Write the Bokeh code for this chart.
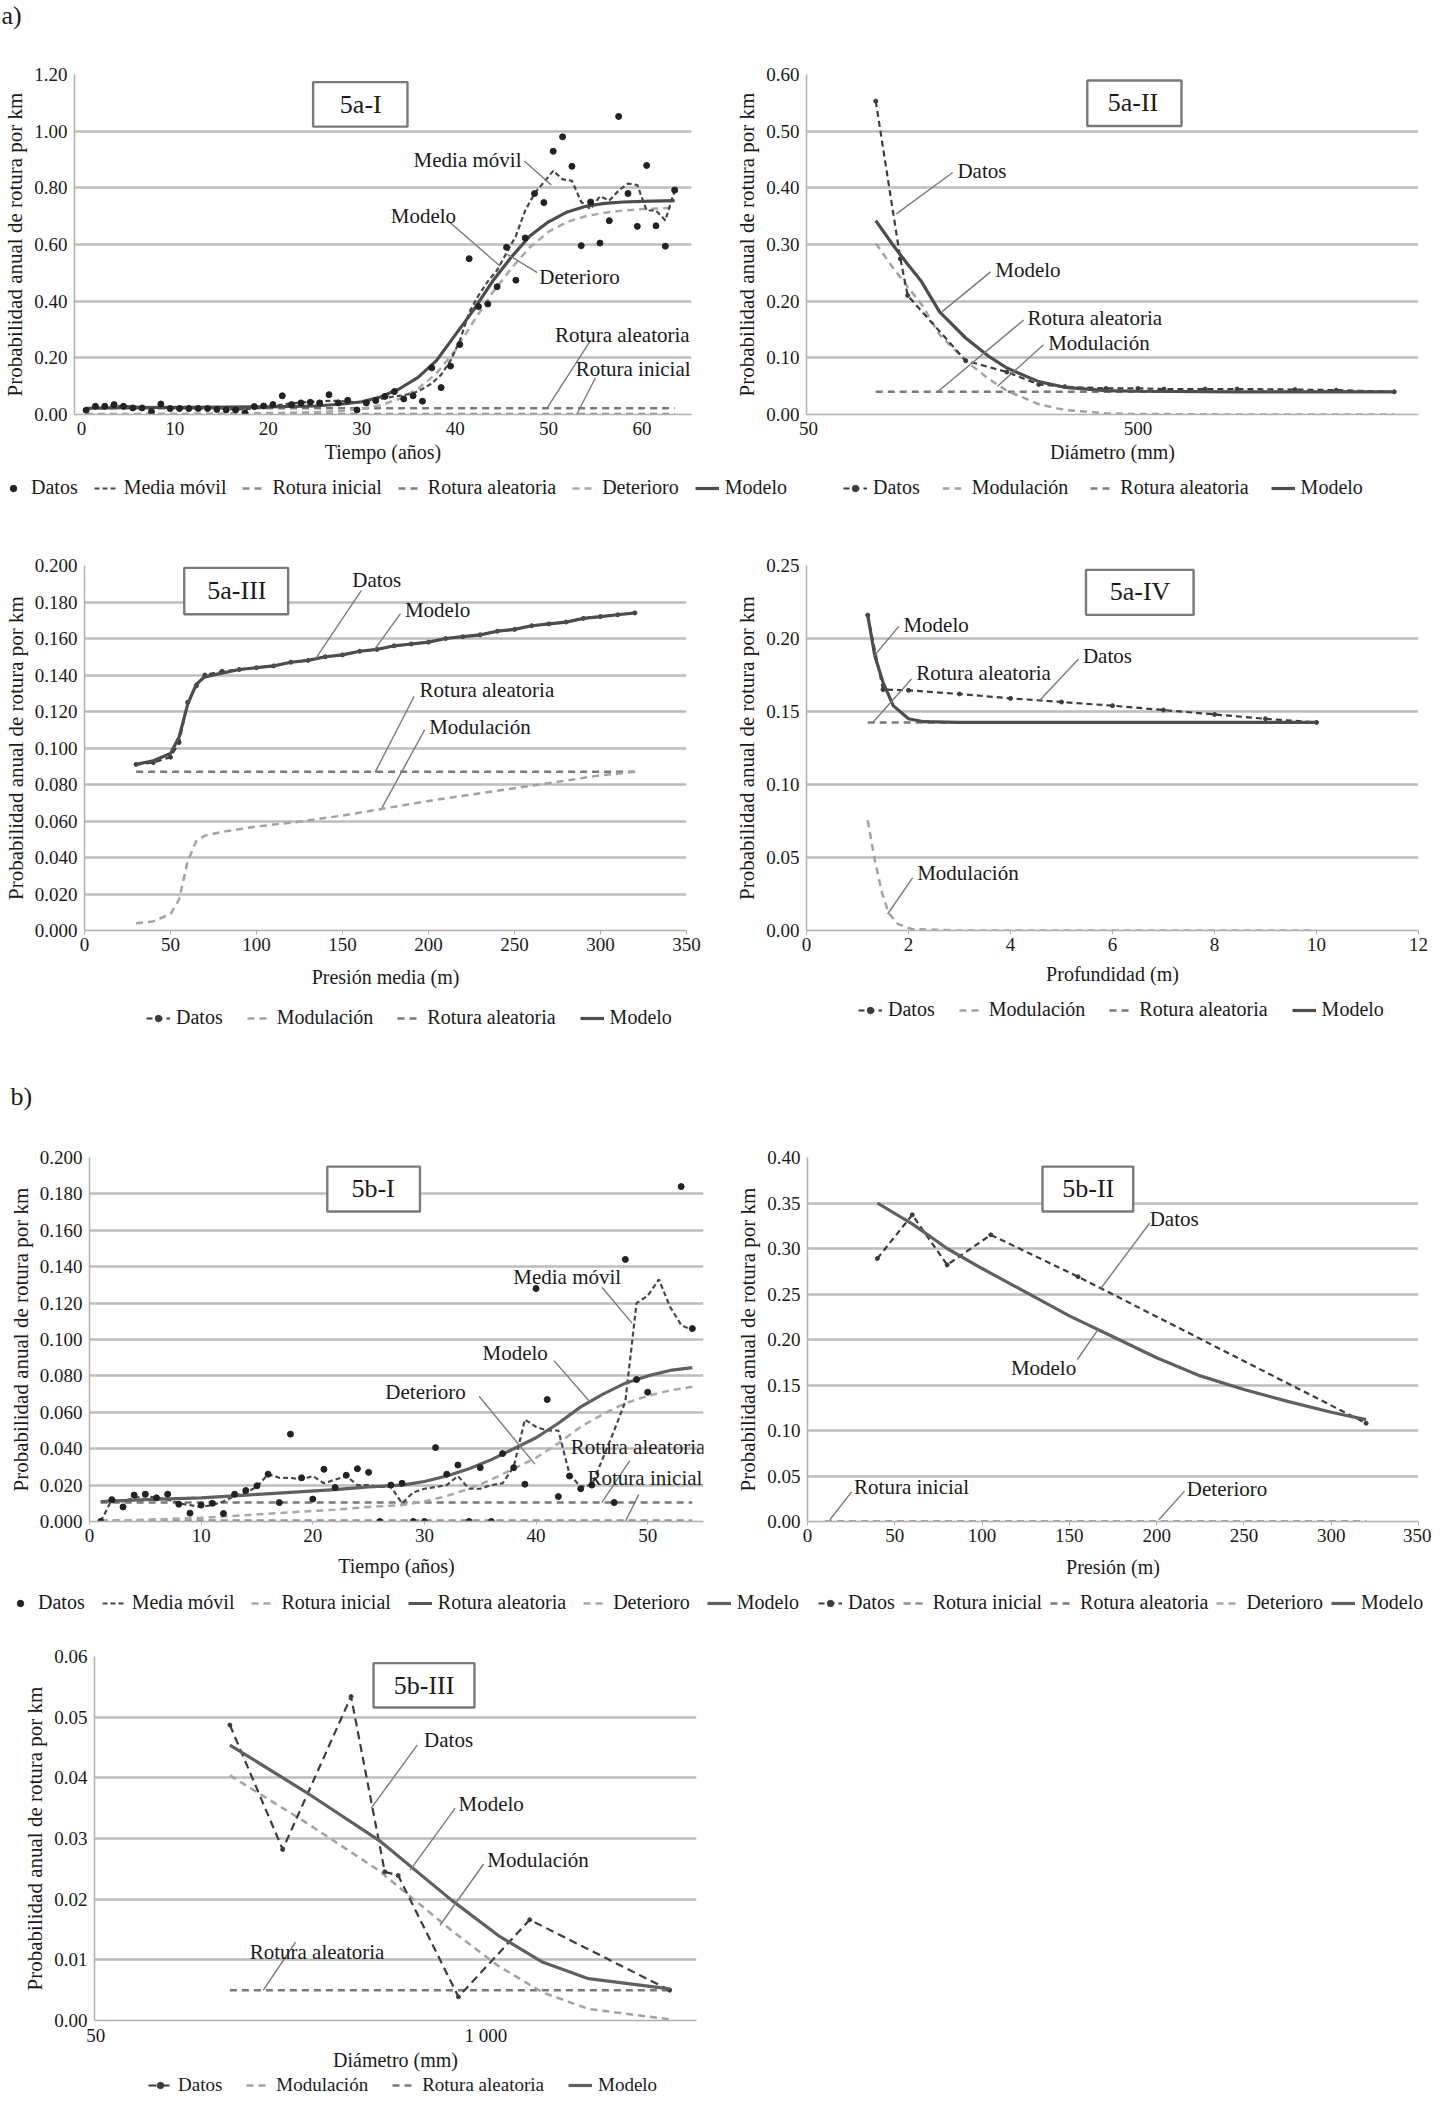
from bokeh.plotting import figure
from bokeh.layouts import column, row
from bokeh.models import Legend, LegendItem, Label, FixedTicker, PrintfTickFormatter, Range1d
from bokeh.core.properties import value
from bokeh.embed import file_html
from bokeh.resources import INLINE

FONT = "Liberation Serif"
TXT = "#1a1a1a"
YLABEL = "Probabilidad anual de rotura por km"

# ---------------- 5a-I ----------------
years_a1 = [0.5, 1.5, 2.5, 3.5, 4.5, 5.5, 6.5, 7.5, 8.5, 9.5,
            10.5, 11.5, 12.5, 13.5, 14.5, 15.5, 16.5, 17.5, 18.5, 19.5,
            20.5, 21.5, 22.5, 23.5, 24.5, 25.5, 26.5, 27.5, 28.5, 29.5,
            30.5, 31.5, 32.5, 33.5, 34.5, 35.5, 36.5, 37.5, 38.5, 39.5,
            40.5, 41.5, 42.5, 43.5, 44.5, 45.5, 46.5, 47.5, 48.5, 49.5,
            50.5, 51.5, 52.5, 53.5, 54.5, 55.5, 56.5, 57.5, 58.5, 59.5,
            60.5, 61.5, 62.5, 63.5]
datos_a1 = [0.015, 0.029, 0.029, 0.035, 0.029, 0.023, 0.023, 0.010, 0.037, 0.021,
            0.021, 0.021, 0.021, 0.021, 0.018, 0.016, 0.016, 0.006, 0.028, 0.030,
            0.035, 0.066, 0.035, 0.041, 0.043, 0.041, 0.070, 0.041, 0.050, 0.016,
            0.041, 0.049, 0.064, 0.081, 0.055, 0.066, 0.047, 0.165, 0.095, 0.171,
            0.247, 0.550, 0.381, 0.390, 0.451, 0.590, 0.474, 0.623, 0.780, 0.748,
            0.929, 0.980, 0.876, 0.596, 0.750, 0.605, 0.684, 1.052, 0.780, 0.664,
            0.879, 0.666, 0.594, 0.792]
media_a1 = [0.020, 0.024, 0.027, 0.030, 0.030, 0.028, 0.026, 0.025, 0.026, 0.025,
            0.024, 0.022, 0.021, 0.021, 0.020, 0.019, 0.018, 0.019, 0.022, 0.026,
            0.030, 0.035, 0.040, 0.042, 0.045, 0.046, 0.048, 0.048, 0.045, 0.043,
            0.045, 0.050, 0.058, 0.064, 0.068, 0.075, 0.090, 0.110, 0.140, 0.190,
            0.260, 0.360, 0.420, 0.470, 0.510, 0.570, 0.630, 0.720, 0.780, 0.820,
            0.860, 0.830, 0.825, 0.750, 0.725, 0.770, 0.755, 0.790, 0.815, 0.810,
            0.720, 0.720, 0.685, 0.790]
tm_a1 = [0.5, 5, 10, 15, 20, 25, 28, 30, 32, 34, 36, 38, 40, 42, 44, 46, 48, 50, 52, 54, 56, 58, 60, 63.5]
modelo_a1 = [0.022, 0.024, 0.025, 0.026, 0.027, 0.030, 0.037, 0.045, 0.062, 0.090, 0.130, 0.190,
             0.280, 0.370, 0.470, 0.555, 0.630, 0.680, 0.715, 0.735, 0.745, 0.750, 0.752, 0.755]
deterioro_a1 = [0.000, 0.001, 0.002, 0.003, 0.005, 0.008, 0.013, 0.020, 0.033, 0.055, 0.090, 0.145,
                0.225, 0.330, 0.430, 0.515, 0.590, 0.645, 0.680, 0.700, 0.712, 0.720, 0.725, 0.730]
tc_a1 = [0.5, 63.5]
aleatoria_a1 = [0.022, 0.022]
inicial_a1 = [0.002, 0.002]

# ---------------- 5a-II ----------------
diam_a2 = [80, 95, 100, 150, 200, 250, 300, 400, 500, 600, 800, 1000, 1500, 2000, 3000]
datos_a2 = [0.553, 0.275, 0.210, 0.095, 0.075, 0.053, 0.049, 0.046, 0.046, 0.045, 0.045, 0.045, 0.044, 0.043, 0.040]
dm_a2 = [80, 90, 100, 110, 125, 150, 175, 200, 250, 300, 400, 500, 1000, 3000]
modelo_a2 = [0.342, 0.300, 0.265, 0.235, 0.181, 0.135, 0.104, 0.082, 0.058, 0.048, 0.042, 0.041, 0.040, 0.040]
modul_a2 = [0.302, 0.260, 0.225, 0.195, 0.141, 0.095, 0.064, 0.042, 0.018, 0.008, 0.002, 0.001, 0.000, 0.000]
dc_a2 = [80, 3000]
aleatoria_a2 = [0.040, 0.040]

# ---------------- 5a-III ----------------
pres_a3 = [30, 40, 50, 55, 60, 65, 70, 80, 90, 100, 110, 120, 130, 140, 150, 160,
           170, 180, 190, 200, 210, 220, 230, 240, 250, 260, 270, 280, 290, 300, 310, 320]
datos_a3 = [0.091, 0.092, 0.095, 0.103, 0.125, 0.134, 0.140, 0.142, 0.143, 0.144, 0.145, 0.147, 0.148, 0.150, 0.151, 0.153,
            0.154, 0.156, 0.157, 0.158, 0.160, 0.161, 0.162, 0.164, 0.165, 0.167, 0.168, 0.169, 0.171, 0.172, 0.173, 0.174]
modelo_a3 = [0.091, 0.093, 0.097, 0.106, 0.124, 0.135, 0.139, 0.141, 0.143, 0.144, 0.145, 0.147, 0.148, 0.150, 0.151, 0.153,
             0.154, 0.156, 0.157, 0.158, 0.160, 0.161, 0.162, 0.164, 0.165, 0.167, 0.168, 0.169, 0.171, 0.172, 0.173, 0.174]
pm_a3 = [30, 40, 50, 55, 60, 65, 70, 80, 100, 120, 150, 175, 200, 250, 300, 320]
modul_a3 = [0.004, 0.005, 0.009, 0.017, 0.038, 0.049, 0.052, 0.054, 0.057, 0.059, 0.063, 0.067, 0.071, 0.078, 0.085, 0.087]
pc_a3 = [30, 320]
aleatoria_a3 = [0.087, 0.087]

# ---------------- 5a-IV ----------------
prof_a4 = [1.2, 1.5, 2, 3, 4, 5, 6, 7, 8, 9, 10]
datos_a4 = [0.216, 0.165, 0.1645, 0.162, 0.159, 0.1565, 0.154, 0.151, 0.148, 0.145, 0.1425]
pm_a4 = [1.2, 1.34, 1.5, 1.7, 2.0, 2.3, 3, 10]
modelo_a4 = [0.216, 0.188, 0.170, 0.154, 0.145, 0.143, 0.1425, 0.1425]
pd_a4 = [1.2, 1.34, 1.48, 1.61, 1.79, 2.06, 3, 10]
modul_a4 = [0.0755, 0.048, 0.026, 0.012, 0.0045, 0.001, 0.0, 0.0]
pc_a4 = [1.2, 10]
aleatoria_a4 = [0.1425, 0.1425]

# ---------------- 5b-I ----------------
years_b1 = [1, 2, 3, 4, 5, 6, 7, 8, 9, 10, 11, 12, 13, 14, 15, 16, 17, 18, 19, 20,
            21, 22, 23, 24, 25, 26, 27, 28, 29, 30, 31, 32, 33, 34, 35, 36, 37, 38, 39, 40,
            41, 42, 43, 44, 45, 47, 48, 49, 50, 53, 54]
datos_b1 = [0.000, 0.012, 0.008, 0.0145, 0.015, 0.013, 0.015, 0.0095, 0.0046, 0.009,
            0.010, 0.0044, 0.015, 0.017, 0.0196, 0.026, 0.0104, 0.048, 0.024, 0.0123,
            0.0287, 0.0187, 0.0254, 0.029, 0.027, 0.000, 0.020, 0.021, 0.000, 0.000,
            0.0406, 0.026, 0.031, 0.000, 0.0296, 0.000, 0.0373, 0.0296, 0.0205, 0.128,
            0.067, 0.0137, 0.025, 0.018, 0.020, 0.0104, 0.144, 0.078, 0.071, 0.184, 0.106]
ym_b1 = [1, 2, 3, 4, 5, 6, 7, 8, 9, 10, 11, 12, 13, 14, 15, 16, 17, 18, 19, 20,
         21, 22, 23, 24, 25, 26, 27, 28, 29, 30, 31, 32, 33, 34, 35, 36, 37, 38, 39, 40,
         41, 42, 43, 44, 45, 46, 47, 48, 49, 50, 51, 52, 53, 54]
media_b1 = [0.000, 0.012, 0.011, 0.013, 0.014, 0.013, 0.012, 0.010, 0.009, 0.008,
            0.009, 0.011, 0.014, 0.016, 0.019, 0.026, 0.024, 0.024, 0.023, 0.025,
            0.021, 0.023, 0.025, 0.020, 0.020, 0.019, 0.019, 0.010, 0.016, 0.018,
            0.019, 0.020, 0.025, 0.018, 0.018, 0.020, 0.021, 0.030, 0.056, 0.052,
            0.050, 0.050, 0.026, 0.019, 0.020, 0.035, 0.050, 0.066, 0.120, 0.124,
            0.133, 0.118, 0.108, 0.105]
tm_b1 = [1, 5, 10, 14, 18, 22, 25, 28, 30, 32, 34, 36, 38, 40, 42, 44, 46, 48, 50, 52, 54]
modelo_b1 = [0.011, 0.012, 0.013, 0.0145, 0.016, 0.0175, 0.019, 0.020, 0.022, 0.025, 0.029,
             0.034, 0.040, 0.046, 0.054, 0.063, 0.070, 0.076, 0.080, 0.083, 0.0845]
deterioro_b1 = [0.000, 0.001, 0.002, 0.0035, 0.005, 0.0065, 0.008, 0.009, 0.011, 0.014, 0.018,
                0.023, 0.029, 0.035, 0.043, 0.052, 0.059, 0.065, 0.069, 0.072, 0.074]
tc_b1 = [1, 54]
aleatoria_b1 = [0.0105, 0.0105]
inicial_b1 = [0.0005, 0.0005]

# ---------------- 5b-II ----------------
pres_b2 = [40, 60, 80, 105, 155, 320]
datos_b2 = [0.289, 0.337, 0.282, 0.315, 0.269, 0.108]
pm_b2 = [40, 60, 80, 100, 125, 150, 175, 200, 225, 250, 275, 300, 320]
modelo_b2 = [0.350, 0.327, 0.300, 0.278, 0.252, 0.226, 0.203, 0.180, 0.160, 0.145, 0.132, 0.120, 0.112]
pc_b2 = [10, 320]
inicial_b2 = [0.0, 0.0]
aleatoria_b2 = [0.0, 0.0]
deterioro_b2 = [0.0, 0.0]

# ---------------- 5b-III ----------------
diam_b3 = [140, 210, 355, 460, 510, 810, 1400, 4100]
datos_b3 = [0.0487, 0.0282, 0.0534, 0.0245, 0.0239, 0.0039, 0.0166, 0.0050]
dm_b3 = [140, 250, 440, 770, 1100, 1550, 2200, 4100]
modelo_b3 = [0.0454, 0.0377, 0.0297, 0.0198, 0.0140, 0.0096, 0.0069, 0.0052]
modul_b3 = [0.0404, 0.0327, 0.0247, 0.0148, 0.0090, 0.0046, 0.0019, 0.0002]
dc_b3 = [140, 4100]
aleatoria_b3 = [0.005, 0.005]

# ---------------- styles ----------------
C_DATOS = "#3c3c3c"
C_MODELO = "#4d4d4d"
C_MEDIA = "#474747"
C_ALEA = "#7a7a7a"
C_INI = "#8e8e8e"
C_DET = "#a8a8a8"
C_MODUL = "#a2a2a2"
C_LEAD = "#7a7a7a"
DASH = "7 5"

STY = {
    "dot": ("scatter", dict(marker="circle", size=6, fill_color="#222222", line_color="#222222")),
    "datos_line": ("line", dict(line_color=C_DATOS, line_width=2.2, line_dash="6 4")),
    "datos_b3": ("line", dict(line_color=C_DATOS, line_width=2.2, line_dash="8 5")),
    "datos_pt": ("scatter", dict(marker="circle", size=4, fill_color=C_DATOS, line_color=C_DATOS)),
    "media": ("line", dict(line_color=C_MEDIA, line_width=2.2, line_dash="5 3")),
    "inicial": ("line", dict(line_color=C_INI, line_width=2.5, line_dash=DASH)),
    "aleatoria": ("line", dict(line_color=C_ALEA, line_width=2.5, line_dash=DASH)),
    "aleatoria_solid": ("line", dict(line_color="#555555", line_width=3)),
    "deterioro": ("line", dict(line_color=C_DET, line_width=2.5, line_dash=DASH)),
    "modul": ("line", dict(line_color=C_MODUL, line_width=2.5, line_dash=DASH)),
    "modelo": ("line", dict(line_color=C_MODELO, line_width=3.2)),
    "modelo_b": ("line", dict(line_color="#606060", line_width=3.2)),
}


def draw(p, x, y, key):
    kind, kw = STY[key]
    if kind == "line":
        return p.line(x, y, **kw)
    return p.scatter(x, y, **kw)


def base(W, H, L, R, T, B, xr, yr, yticks, yfmt, xticks, xlabel, xlog=False,
         xtick_out=4, xlab_standoff=8, overrides=None, xlabel_standoff=None):
    p = figure(width=W, height=H, x_range=Range1d(*xr), y_range=Range1d(*yr),
               x_axis_type=("log" if xlog else "linear"), output_backend="svg",
               toolbar_location=None, title=None,
               min_border_left=L, min_border_right=R, min_border_top=T, min_border_bottom=B)
    p.outline_line_color = None
    p.background_fill_color = "white"
    p.border_fill_color = "white"
    p.xgrid.visible = False
    p.ygrid.grid_line_color = "#bdbdbd"
    p.ygrid.grid_line_width = 2.4
    p.yaxis.ticker = FixedTicker(ticks=yticks)
    p.ygrid.ticker = FixedTicker(ticks=yticks)
    p.yaxis.formatter = PrintfTickFormatter(format=yfmt)
    p.xaxis.ticker = FixedTicker(ticks=xticks)
    if overrides:
        p.xaxis.major_label_overrides = overrides
    for ax in (p.xaxis[0], p.yaxis[0]):
        ax.axis_line_color = "#b0b0b0"
        ax.axis_line_width = 1.5
        ax.minor_tick_line_color = None
        ax.major_label_text_font = FONT
        ax.major_label_text_font_size = "19px"
        ax.major_label_text_color = TXT
        ax.axis_label_text_font = FONT
        ax.axis_label_text_font_size = "20px"
        ax.axis_label_text_font_style = "normal"
        ax.axis_label_text_color = TXT
    p.yaxis.axis_label_text_font_size = "21px"
    p.yaxis.major_tick_line_color = None
    p.yaxis.major_tick_out = 0
    p.yaxis.major_tick_in = 0
    p.yaxis.major_label_standoff = 7
    p.yaxis.axis_label = YLABEL
    p.yaxis.axis_label_standoff = 4
    p.xaxis.axis_label = xlabel
    p.xaxis.major_tick_out = xtick_out
    p.xaxis.major_tick_in = 0
    p.xaxis.major_tick_line_color = "#b0b0b0" if xtick_out else None
    p.xaxis.major_label_standoff = (max(7 - xtick_out, 2) if xlabel_standoff is None
                                    else xlabel_standoff)
    p.xaxis.axis_label_standoff = xlab_standoff
    return p


def strip(h):
    s = figure(width=1431, height=h, x_range=Range1d(0, 1431), y_range=Range1d(0, h),
               x_axis_location=None, y_axis_location=None, toolbar_location=None,
               output_backend="svg", min_border=0, title=None)
    s.grid.visible = False
    s.outline_line_color = None
    s.background_fill_color = "white"
    s.border_fill_color = "white"
    return s


# legend swatches need one (off-screen) sample so that the glyph is drawn
SWATCH_X = [-100]
SWATCH_Y = [-100]


def legend_in(s, entries, vx, vy, size="20px", spacing=20):
    items = []
    for label, keys in entries:
        rs = [draw(s, SWATCH_X, SWATCH_Y, k) for k in keys]
        items.append(LegendItem(label=label, renderers=rs))
    lg = Legend(items=items, location=(vx, vy), orientation="horizontal",
                background_fill_alpha=0, border_line_color=None,
                label_text_font=FONT, label_text_font_size=size, label_text_color=TXT,
                glyph_width=24, glyph_height=16, label_standoff=6, spacing=spacing,
                padding=0, margin=0)
    s.add_layout(lg)


def annotate(p, anns):
    for txt, tx, ty, al, x0, y0, x1, y1 in anns:
        p.segment(x0=[x0], y0=[y0], x1=[x1], y1=[y1], line_color=C_LEAD, line_width=1.4)
        p.text(x=[tx], y=[ty], text=[txt], text_font=value(FONT), text_font_size="21px",
               text_align=al, text_baseline="middle", text_color=TXT)


def tag(p, box, txt):
    l, r, b, t, cx, cy = box
    p.quad(left=[l], right=[r], bottom=[b], top=[t], fill_color="white",
           line_color="#7a7a7a", line_width=2.4)
    p.text(x=[cx], y=[cy], text=[txt], text_font=value(FONT), text_font_size="26px",
           text_align="center", text_baseline="middle", text_color=TXT)


def panel_label(s, txt, x, y):
    s.add_layout(Label(x=x, y=y, text=txt, text_font=FONT, text_font_size="26px",
                       text_baseline="middle", text_color=TXT))


# ================= top strip (a) =================
sA = strip(40)
panel_label(sA, "a)", 1, 25)

# ================= 5a-I =================
f1 = base(732, 430, 68, 41, 32, 56, (-0.74, 65.3), (0, 1.2),
          [0, 0.2, 0.4, 0.6, 0.8, 1.0, 1.2], "%.2f", [0, 10, 20, 30, 40, 50, 60],
          "Tiempo (años)", xtick_out=0, xlab_standoff=3)
draw(f1, tc_a1, inicial_a1, "inicial")
draw(f1, tc_a1, aleatoria_a1, "aleatoria")
draw(f1, tm_a1, deterioro_a1, "deterioro")
draw(f1, years_a1, media_a1, "media")
draw(f1, tm_a1, modelo_a1, "modelo")
draw(f1, years_a1, datos_a1, "dot")
tag(f1, (24.8, 34.9, 1.016, 1.173, 29.9, 1.095), "5a-I")
annotate(f1, [
    ("Media móvil", 47.1, 0.897, "right", 47.4, 0.895, 50.3, 0.81),
    ("Modelo", 40.1, 0.699, "right", 39.3, 0.682, 44.8, 0.524),
    ("Deterioro", 49.0, 0.484, "left", 48.8, 0.501, 45.6, 0.565),
    ("Rotura aleatoria", 65.1, 0.282, "right", 54.5, 0.262, 49.8, 0.021),
    ("Rotura inicial", 65.2, 0.161, "right", 55.0, 0.128, 53.0, 0.0),
])

# ================= 5a-II =================
f2 = base(699, 430, 68, 13, 34, 56, (49.3, 3555), (0, 0.6),
          [0, 0.1, 0.2, 0.3, 0.4, 0.5, 0.6], "%.2f", [50, 500],
          "Diámetro (mm)", xlog=True, xtick_out=0, xlab_standoff=3,
          overrides={50: "50", 500: "500"})
draw(f2, dc_a2, aleatoria_a2, "aleatoria")
draw(f2, dm_a2, modul_a2, "modul")
draw(f2, diam_a2, datos_a2, "datos_line")
draw(f2, diam_a2, datos_a2, "datos_pt")
draw(f2, dm_a2, modelo_a2, "modelo")
tag(f2, (351, 678, 0.509, 0.5895, 483, 0.55), "5a-II")
annotate(f2, [
    ("Datos", 141.6, 0.43, "left", 137, 0.427, 92.4, 0.354),
    ("Modelo", 184.4, 0.2546, "left", 178.5, 0.2517, 127.3, 0.1815),
    ("Rotura aleatoria", 230.9, 0.1698, "left", 225, 0.1668, 123.3, 0.040),
    ("Modulación", 267, 0.1259, "left", 258.4, 0.123, 187.4, 0.0498),
])

# legend strip row 1
s1 = strip(35)
legend_in(s1, [("Datos", ["dot"]), ("Media móvil", ["media"]), ("Rotura inicial", ["inicial"]),
               ("Rotura aleatoria", ["aleatoria"]), ("Deterioro", ["deterioro"]), ("Modelo", ["modelo"])],
          1, 6, spacing=16)
legend_in(s1, [("Datos", ["datos_line", "datos_pt"]), ("Modulación", ["modul"]),
               ("Rotura aleatoria", ["aleatoria"]), ("Modelo", ["modelo"])], 843, 6, spacing=22)

# ================= 5a-III =================
f3 = base(732, 490, 80, 46, 60, 65, (0, 350), (0, 0.2),
          [0, 0.02, 0.04, 0.06, 0.08, 0.10, 0.12, 0.14, 0.16, 0.18, 0.20], "%.3f",
          [0, 50, 100, 150, 200, 250, 300, 350], "Presión media (m)", xtick_out=4, xlab_standoff=12)
draw(f3, pc_a3, aleatoria_a3, "aleatoria")
draw(f3, pm_a3, modul_a3, "modul")
draw(f3, pres_a3, datos_a3, "datos_line")
draw(f3, pres_a3, datos_a3, "datos_pt")
draw(f3, pres_a3, modelo_a3, "modelo")
tag(f3, (58, 118.4, 0.1733, 0.1987, 88.6, 0.1864), "5a-III")
annotate(f3, [
    ("Datos", 155.7, 0.1918, "left", 161, 0.1864, 134.4, 0.149),
    ("Modelo", 186.3, 0.1758, "left", 183.7, 0.1736, 169, 0.1545),
    ("Rotura aleatoria", 194.8, 0.1318, "left", 191.6, 0.1282, 169, 0.0868),
    ("Modulación", 200.4, 0.1114, "left", 197.8, 0.110, 173, 0.0673),
])

# ================= 5a-IV =================
f4 = base(699, 490, 68, 13, 59, 63, (0, 12), (0, 0.25),
          [0, 0.05, 0.10, 0.15, 0.20, 0.25], "%.2f", [0, 2, 4, 6, 8, 10, 12],
          "Profundidad (m)", xtick_out=4, xlab_standoff=9)
draw(f4, pc_a4, aleatoria_a4, "aleatoria")
draw(f4, pd_a4, modul_a4, "modul")
draw(f4, prof_a4, datos_a4, "datos_line")
draw(f4, prof_a4, datos_a4, "datos_pt")
draw(f4, pm_a4, modelo_a4, "modelo")
tag(f4, (5.48, 7.59, 0.2162, 0.247, 6.54, 0.232), "5a-IV")
annotate(f4, [
    ("Modelo", 1.90, 0.209, "left", 1.81, 0.2083, 1.325, 0.188),
    ("Rotura aleatoria", 2.15, 0.1763, "left", 2.06, 0.1723, 1.30, 0.1425),
    ("Datos", 5.42, 0.188, "left", 5.33, 0.1858, 4.57, 0.1576),
    ("Modulación", 2.17, 0.0394, "left", 2.08, 0.036, 1.59, 0.0113),
])

# legend strip row 2 + "b)"
s2 = strip(121)
legend_in(s2, [("Datos", ["datos_line", "datos_pt"]), ("Modulación", ["modul"]),
               ("Rotura aleatoria", ["aleatoria"]), ("Modelo", ["modelo"])], 146, 87, spacing=24)
legend_in(s2, [("Datos", ["datos_line", "datos_pt"]), ("Modulación", ["modul"]),
               ("Rotura aleatoria", ["aleatoria"]), ("Modelo", ["modelo"])], 858, 95, spacing=24)
panel_label(s2, "b)", 10, 20)

# ================= 5b-I =================
f5 = base(732, 471, 89, 29, 41, 66, (0, 55), (0, 0.2),
          [0, 0.02, 0.04, 0.06, 0.08, 0.10, 0.12, 0.14, 0.16, 0.18, 0.20], "%.3f",
          [0, 10, 20, 30, 40, 50], "Tiempo (años)", xtick_out=3, xlab_standoff=10)
draw(f5, tc_b1, inicial_b1, "inicial")
draw(f5, tc_b1, aleatoria_b1, "aleatoria")
draw(f5, tm_b1, deterioro_b1, "deterioro")
draw(f5, ym_b1, media_b1, "media")
draw(f5, tm_b1, modelo_b1, "modelo_b")
draw(f5, years_b1, datos_b1, "dot")
tag(f5, (21.3, 29.6, 0.1703, 0.195, 25.4, 0.1827), "5b-I")
annotate(f5, [
    ("Media móvil", 37.96, 0.1346, "left", 45.9, 0.1287, 48.6, 0.109),
    ("Modelo", 35.2, 0.0924, "left", 41.6, 0.0884, 44.8, 0.0659),
    ("Deterioro", 26.5, 0.0714, "left", 34.9, 0.0688, 39.9, 0.0315),
    ("Rotura aleatoria", 43.1, 0.0407, "left", 48.4, 0.0335, 45.9, 0.0105),
    ("Rotura inicial", 54.9, 0.024, "right", 49.2, 0.0148, 48.0, 0.0),
])

# ================= 5b-II =================
f6 = base(699, 471, 75, 13, 41, 66, (0, 350), (0, 0.4),
          [0, 0.05, 0.10, 0.15, 0.20, 0.25, 0.30, 0.35, 0.40], "%.2f",
          [0, 50, 100, 150, 200, 250, 300, 350], "Presión (m)", xtick_out=4, xlab_standoff=11)
draw(f6, pc_b2, inicial_b2, "inicial")
draw(f6, pc_b2, aleatoria_b2, "aleatoria")
draw(f6, pc_b2, deterioro_b2, "deterioro")
draw(f6, pres_b2, datos_b2, "datos_line")
draw(f6, pres_b2, datos_b2, "datos_pt")
draw(f6, pm_b2, modelo_b2, "modelo_b")
tag(f6, (134.6, 186.6, 0.3406, 0.390, 160.8, 0.3655), "5b-II")
annotate(f6, [
    ("Datos", 196, 0.332, "left", 196, 0.328, 168, 0.256),
    ("Modelo", 116.5, 0.1688, "left", 154.6, 0.178, 166.6, 0.2115),
    ("Rotura inicial", 26.7, 0.0378, "left", 25.3, 0.0326, 12.8, 0.0019),
    ("Deterioro", 217.3, 0.0352, "left", 216, 0.0334, 201.3, 0.0019),
])

# legend strip row 3
s3 = strip(27)
legend_in(s3, [("Datos", ["dot"]), ("Media móvil", ["media"]), ("Rotura inicial", ["deterioro"]),
               ("Rotura aleatoria", ["aleatoria_solid"]), ("Deterioro", ["deterioro"]), ("Modelo", ["modelo_b"])],
          8, 0, spacing=17)
legend_in(s3, [("Datos", ["datos_line", "datos_pt"]), ("Rotura inicial", ["inicial"]),
               ("Rotura aleatoria", ["aleatoria"]), ("Deterioro", ["deterioro"]), ("Modelo", ["modelo_b"])],
          818, 0, spacing=8)

# ================= 5b-III =================
f7 = base(732, 461, 94, 36, 42, 55, (49.5, 5040), (0, 0.06),
          [0, 0.01, 0.02, 0.03, 0.04, 0.05, 0.06], "%.2f", [50, 1000],
          "Diámetro (mm)", xlog=True, xtick_out=0, xlab_standoff=0, xlabel_standoff=4,
          overrides={50: "50", 1000: "1 000"})
draw(f7, dc_b3, aleatoria_b3, "aleatoria")
draw(f7, dm_b3, modul_b3, "modul")
draw(f7, diam_b3, datos_b3, "datos_b3")
draw(f7, diam_b3, datos_b3, "datos_pt")
draw(f7, dm_b3, modelo_b3, "modelo_b")
tag(f7, (422, 916, 0.0516, 0.0589, 622, 0.0553), "5b-III")
annotate(f7, [
    ("Datos", 622, 0.0463, "left", 590, 0.0454, 414.5, 0.035),
    ("Modelo", 810, 0.0357, "left", 790, 0.035, 559, 0.0248),
    ("Modulación", 1011, 0.0265, "left", 983, 0.0258, 703, 0.0157),
    ("Rotura aleatoria", 163, 0.0113, "left", 231.7, 0.0129, 181, 0.005),
])

# legend strip row 4
s4 = strip(21)
legend_in(s4, [("Datos", ["datos_b3", "datos_pt"]), ("Modulación", ["modul"]),
               ("Rotura aleatoria", ["aleatoria"]), ("Modelo", ["modelo_b"])], 148, 0,
          size="19px", spacing=24)

layout = column(sA, row(f1, f2), s1, row(f3, f4), s2, row(f5, f6), s3, row(f7), s4)

with open("out.html", "w") as fh:
    fh.write(file_html(layout, INLINE))
